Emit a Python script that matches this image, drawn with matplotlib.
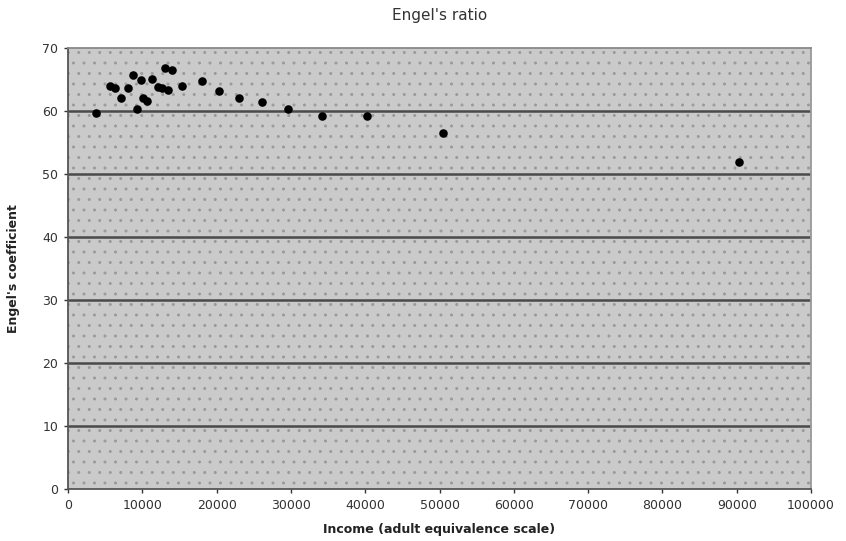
import matplotlib
matplotlib.use("Agg")
import matplotlib.pyplot as plt

# income (adult equivalence scale) vs Engel's coefficient (%)
income = [3770, 5650, 6330, 7130, 8080, 8750, 9290, 9830, 10090, 10630,
          11310, 12110, 12650, 13050, 13460, 14000, 15340, 18030, 20320,
          23010, 26110, 29610, 34190, 40240, 50470, 90310]
engel = [59.7, 64.0, 63.7, 62.0, 63.7, 65.7, 60.3, 64.9, 62.1, 61.6,
         65.0, 63.8, 63.7, 66.8, 63.3, 66.5, 64.0, 64.8, 63.2,
         62.1, 61.5, 60.3, 59.2, 59.2, 56.5, 51.9]

x_ticks = list(range(0, 100001, 10000))
y_ticks = list(range(0, 71, 10))

# dpi 126 so that the '..' hatch gives the ~10.5 px dot spacing of the original
DPI = 126
K = 100 / DPI  # keeps point sizes looking as they would at 100 dpi

plt.rcParams["hatch.color"] = "#9a9a9a"
plt.rcParams["hatch.linewidth"] = 0.5

fig = plt.figure(figsize=(846 / DPI, 541 / DPI), dpi=DPI)
ax = fig.add_axes([0.0804, 0.0961, 0.8783, 0.8152])

ax.set_facecolor("#cacaca")
ax.patch.set_hatch("..")
ax.patch.set_edgecolor("#9a9a9a")

for y in y_ticks[1:-1]:
    ax.axhline(y, color="#4a4a4a", linewidth=1.8 * K, zorder=1)

ax.scatter(income, engel, s=24 * K * K, color="black", zorder=3)

ax.set_xlim(0, 100000)
ax.set_ylim(0, 70)
ax.set_xticks(x_ticks)
ax.set_yticks(y_ticks)
ax.tick_params(labelsize=9 * K, colors="#333333", length=3 * K, width=1 * K,
               pad=4 * K)

for side in ("left", "bottom", "top", "right"):
    ax.spines[side].set_linestyle((0, (2, 1)))
    ax.spines[side].set_color("#555555")
    ax.spines[side].set_linewidth(1.3 * K)
ax.spines["top"].set_color("#888888")
ax.spines["right"].set_color("#999999")

ax.set_title("Engel's ratio", fontsize=11 * K, color="#333333", pad=20 * K)
ax.set_xlabel("Income (adult equivalence scale)", fontsize=9 * K,
              fontweight="bold", color="#222222", labelpad=8 * K)
ax.set_ylabel("Engel's coefficient", fontsize=9 * K, fontweight="bold",
              color="#222222", labelpad=16 * K)

plt.savefig("out.png", dpi=DPI)
